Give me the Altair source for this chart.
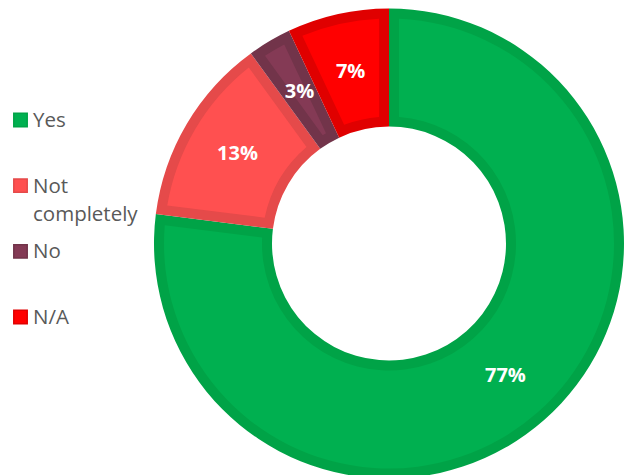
import altair as alt
import pandas as pd

# ---- data ----
categories = ["Yes", "Not completely", "No", "N/A"]
values = [77, 13, 3, 7]
percent_labels = ["77%", "13%", "3%", "7%"]
legend_labels = ["Yes", "Not\ncompletely", "No", "N/A"]
fill_colors = ["#00B050", "#FF5050", "#843A55", "#FF0000"]
edge_colors = ["#00A347", "#E54A4A", "#72344A", "#E00000"]

df = pd.DataFrame({
    "cat": categories,
    "value": values,
    "pct": percent_labels,
    "legend": legend_labels,
    "fill": fill_colors,
    "edge": edge_colors,
    "idx": list(range(len(categories))),
})

CX, CY = 389, 243.5
FONT = "Open Sans"

base = alt.Chart(df)
theta = alt.Theta("value:Q", stack=True)
order = alt.Order("idx:Q", sort="ascending")

dark = base.mark_arc(outerRadius=235, innerRadius=117).encode(
    theta=theta, order=order,
    fill=alt.Fill("edge:N", scale=None),
    x=alt.value(CX), y=alt.value(CY),
)

light = base.mark_arc(outerRadius=225, innerRadius=127, padAngle=0.0775).encode(
    theta=theta, order=order,
    fill=alt.Fill("fill:N", scale=None),
    x=alt.value(CX), y=alt.value(CY),
)

pct = base.mark_text(radius=176, font=FONT, fontSize=20, fontWeight="bold",
                     color="white", baseline="middle", align="center").encode(
    theta=theta, order=order,
    text="pct:N",
    x=alt.value(CX), y=alt.value(CY),
)

ly = alt.Y("cat:N", sort=categories, axis=None,
           scale=alt.Scale(type="point", range=[120, 317], padding=0))

squares = base.mark_square(size=180, opacity=1, strokeWidth=1.5).encode(
    x=alt.value(20.5), y=ly,
    fill=alt.Fill("fill:N", scale=None),
    stroke=alt.Stroke("edge:N", scale=None),
)

ltext = base.mark_text(align="left", baseline="alphabetic", dy=7, lineBreak="\n",
                       font=FONT, fontSize=20.5, color="#595959", lineHeight=28).encode(
    x=alt.value(33), y=ly, text="legend:N",
)

chart = alt.layer(dark, light, pct, squares, ltext).properties(
    width=625, height=475, padding=0, autosize="none"
).configure_view(stroke=None)

chart.save("out.html", embed_options={"renderer": "svg", "actions": False})
